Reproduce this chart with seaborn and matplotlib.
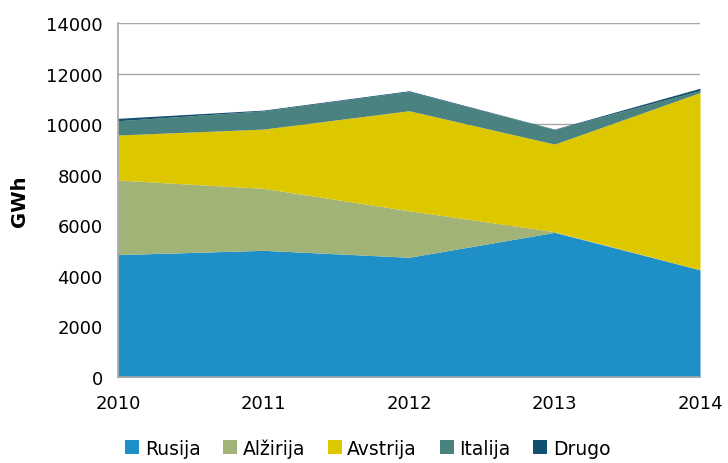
import matplotlib
matplotlib.use("Agg")
import matplotlib.pyplot as plt
import seaborn as sns
import numpy as np
from matplotlib.patches import Patch

years = [2010, 2011, 2012, 2013, 2014]
rusija = [4840, 5010, 4735, 5720, 4240]
alzirija = [2950, 2450, 1840, 30, 0]
avstrija = [1780, 2345, 3955, 3460, 7010]
italija = [565, 720, 760, 580, 80]
drugo = [95, 30, 30, 15, 90]
labels = ["Rusija", "Alžirija", "Avstrija", "Italija", "Drugo"]
colors = ["#1f8fc8", "#a2b378", "#ddc800", "#4a8280", "#134f6e"]

sns.set_theme(style="white")
plt.rcParams['font.family'] = ['DejaVu Sans']
plt.rcParams['text.color'] = 'black'
plt.rcParams['axes.labelcolor'] = 'black'

fig = plt.figure(figsize=(7.28, 4.64), dpi=100)
ax = fig.add_axes([118/728, 1-378/464, (700-118)/728, (378-24)/464])

ax.stackplot(years, rusija, alzirija, avstrija, italija, drugo,
             colors=colors, linewidth=0, zorder=2)

ax.set_xlim(2010, 2014)
ax.set_ylim(0, 14000)
ax.set_yticks(range(0, 14001, 2000))
ax.set_xticks(years)
ax.set_xticklabels([str(y) for y in years])
ax.yaxis.grid(True, color="#a6a6a6", linewidth=1, zorder=0)
ax.set_axisbelow(True)
for s in ["top", "right"]:
    ax.spines[s].set_visible(False)
for s in ["left", "bottom"]:
    ax.spines[s].set_color("#a6a6a6")
    ax.spines[s].set_linewidth(1.2)
    ax.spines[s].set_zorder(3)
ax.tick_params(axis="both", labelsize=13, colors="#000000", length=0)
ax.tick_params(axis="x", pad=12)
ax.tick_params(axis="y", pad=11)
ax.set_ylabel("GWh", fontsize=14, fontweight="bold", labelpad=12, color="black")

handles = [Patch(facecolor=c, edgecolor="none") for c in colors]
fig.legend(handles, labels, loc="lower center", bbox_to_anchor=(0.505, -0.025),
           ncol=5, frameon=False, fontsize=13.5, handlelength=0.75, handleheight=0.75,
           handletextpad=0.3, columnspacing=1.2, labelcolor="black")

fig.savefig("out.png", dpi=100)
